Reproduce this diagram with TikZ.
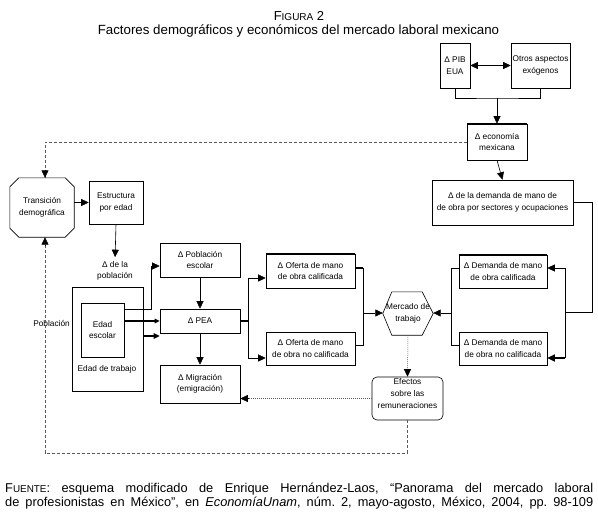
\documentclass[tikz,border=0pt]{standalone}
\usepackage{fontspec}
\setmainfont{Liberation Sans}
\usetikzlibrary{arrows.meta,calc}
\newcommand\boxfont{\fontsize{8.3}{11.5}\selectfont}
\frenchspacing
\begin{document}
\begin{tikzpicture}[x=1pt,y=-1pt,
  bx/.style={draw, line width=0.6pt, inner sep=0pt, align=center, font=\boxfont},
  plain/.style={inner sep=0pt, align=center, font=\boxfont},
  ar/.style={-{Triangle[length=7.5pt,width=7pt]}},
  ln/.style={line width=0.6pt},
  tk/.style={line width=1.8pt},
  md/.style={line width=1.2pt},
  dsh/.style={line width=0.5pt, dash pattern=on 3pt off 2pt, black!65},
  dtt/.style={line width=0.5pt, dash pattern=on 1pt off 1pt, black!65}]
\useasboundingbox (0,0) rectangle (598,515);
\fill[white] (0,0) rectangle (598,515);

% titles
\node[inner sep=0pt, font=\fontsize{13}{14}\selectfont] (t1) at (299,16) {F{\fontsize{10}{14}\selectfont IGURA} 2};
\node[inner sep=0pt, font=\fontsize{13.3}{14}\selectfont] (t2) at (298.5,31) {Factores demográficos y económicos del mercado laboral mexicano};

% top boxes
\node[bx, minimum width=30pt, minimum height=45pt] (pib) at (455,65.5) {Δ PIB\\EUA};
\node[bx, minimum width=59pt, minimum height=45pt] (otros) at (540.5,65.5) {Otros aspectos\\exógenos};
\node[bx, minimum width=60pt, minimum height=36pt] (eco) at (497,142) {Δ economía\\mexicana};
\node[bx, minimum width=141pt, minimum height=45pt] (dem) at (502.5,202.5) {Δ de la demanda de mano de\\de obra por sectores y ocupaciones};
\node[bx, minimum width=88pt, minimum height=33pt] (dcal) at (503,271.5) {Δ Demanda de mano\\de obra calificada};
\node[bx, minimum width=88pt, minimum height=33pt] (dnoc) at (503,348.5) {Δ Demanda de mano\\de obra no calificada};

% supply side
\node[bx, minimum width=89pt, minimum height=34pt] (ocal) at (310.5,271) {Δ Oferta de mano\\de obra calificada};
\node[bx, minimum width=89pt, minimum height=33pt] (onoc) at (310.5,348.5) {Δ Oferta de mano\\de obra no calificada};
\node[bx, minimum width=80pt, minimum height=34pt] (pesc) at (200,260) {Δ Población\\escolar};
\node[bx, minimum width=80pt, minimum height=24pt] (pea) at (200,321) {Δ PEA};
\node[bx, minimum width=80pt, minimum height=38pt] (mig) at (200,384) {Δ Migración\\(emigración)};

% market and effects
\node[plain, minimum width=50pt, minimum height=43pt] (mer) at (408,313.5) {Mercado de\\trabajo};
\draw[ln] (mer.west) -- ($(mer.north west)+(9,0)$) -- ($(mer.north east)+(-11,0)$) -- (mer.east)
  -- ($(mer.south east)+(-11,0)$) -- ($(mer.south west)+(9,0)$) -- cycle;
\node[bx, rounded corners=5pt, minimum width=71pt, minimum height=43pt] (efe) at (407.5,398.5) {};
\node[plain, font=\fontsize{8.3}{12}\selectfont] (efet) at (407.5,394) {Efectos\\sobre las\\remuneraciones};

% left side
\node[plain, minimum width=64pt, minimum height=59pt] (trans) at (42,207.5) {Transición\\demográfica};
\draw[ln] ($(trans.north west)+(9,0)$) -- ($(trans.north east)+(-9,0)$) -- ($(trans.north east)+(0,9)$)
  -- ($(trans.south east)+(0,-9)$) -- ($(trans.south east)+(-9,0)$) -- ($(trans.south west)+(9,0)$)
  -- ($(trans.south west)+(0,-9)$) -- ($(trans.north west)+(0,9)$) -- cycle;
\node[bx, minimum width=54pt, minimum height=43pt] (est) at (116,202.5) {Estructura\\por edad};
\node[plain] (dpob) at (115,271) {Δ de la\\población};
\node[bx, minimum width=71pt, minimum height=104pt] (pobl) at (107.5,339) {};
\node[bx, minimum width=43pt, minimum height=54pt] (esc) at (102.5,330) {Edad\\escolar};
\draw[md] (esc.south west) -- (esc.south east);
\node[plain] (ltrab) at (107,369) {Edad de trabajo};
\node[plain, anchor=east] (lpob) at (70,323) {Población};

% thick top borders
\draw[tk] (eco.north west) -- (eco.north east);
\draw[tk] (ocal.north west) -- (ocal.north east);
\draw[tk] (dcal.north west) -- (dcal.north east);

% connectors top
\draw[ln, {Triangle[length=7.5pt,width=7pt]}-{Triangle[length=7.5pt,width=7pt]}] (pib.east) -- (otros.west);
\coordinate (j1) at (497,98);
\draw[ln] (pib.south) |- (j1) -| (otros.south);
\draw[ln,ar] (j1) -- (eco.north);
\draw[ln,ar] (eco.south) -- (dem.north);

% demand loop
\coordinate (rr) at (592,312);
\coordinate (rv) at (565,312);
\coordinate (rt) at (565,268);
\coordinate (rb) at (565,358);
\draw[ln] (dem.east) -| (rr) -- (rv);
\draw[ln] (rt) -- (rb);
\draw[ln,ar] (rt) -- (rt -| dcal.east);
\draw[md,ar] (rb) -- (rb -| dnoc.east);
\coordinate (lt) at (451,268);
\coordinate (lb) at (451,345);
\coordinate (lm) at (451,313);
\draw[ln] (lt -| dcal.west) -- (lt) -- (lb) -- (lb -| dnoc.west);
\draw[ln,ar] (lm) -- (lm -| mer.east);

% supply bracket
\coordinate (ot) at (363,268);
\coordinate (ob) at (363,345);
\coordinate (om) at (363,313);
\draw[tk] (ot -| ocal.east) -- (ot);
\draw[ln] (ot) -- (ob) -- (ob -| onoc.east);
\draw[ln,ar] (om) -- (om -| mer.west);

% PEA bracket
\coordinate (pj) at (248,321);
\coordinate (pt) at (248,278);
\coordinate (pb) at (248,358);
\draw[tk] (pea.east) -- (pj);
\draw[ln] (pt) -- (pb);
\draw[ln,ar] (pt) -- (pt -| ocal.west);
\draw[ln,ar] (pb) -- (pb -| onoc.west);
\draw[ln,ar] (pesc.south) -- (pea.north);
\draw[ln,ar] (pea.south) -- (mig.north);

% left connectors
\draw[ln,ar] (est.west -| trans.east) -- (est.west);
\draw[ln,ar, shorten >=4pt] (est.south) -- (dpob.north);
\coordinate (e1) at (151,309);
\coordinate (e2) at (151,266);
\draw[ln] (e1 -| esc.east) -- (e1) -- (e2);
\draw[ln,ar] (e2) -- (e2 -| pesc.west);
\draw[tk,-{Triangle[length=5pt,width=4.5pt]}] (esc.east |- pea.west) -- (pea.west);
\coordinate (e3) at (143,336);
\draw[md,-{Triangle[length=6pt,width=5.5pt]}] (e3) -- (e3 -| pea.west);

% dashed / dotted feedback
\coordinate (d1) at (45,142);
\draw[dsh] (eco.west) -- (d1) -- (d1 |- trans.north);
\draw[ln,ar,black] ($(d1 |- trans.north)+(0,-8)$) -- (d1 |- trans.north);
\coordinate (d2) at (407.5,453);
\coordinate (d3) at (45,453);
\draw[dsh] (efe.south) -- (d2) -- (d3) -- (d3 |- trans.south);
\draw[ln,ar,black] ($(d3 |- trans.south)+(0,8)$) -- (d3 |- trans.south);
\draw[dtt] (mer.south) -- (efe.north);
\draw[ln,ar,black] ($(efe.north)+(0,-8)$) -- (efe.north);
\draw[dtt] (efe.west) -- (efe.west -| mig.east);
\draw[ln,ar,black] ($(efe.west -| mig.east)+(8,0)$) -- (efe.west -| mig.east);

% caption
\node[anchor=west, inner sep=0pt, font=\fontsize{12.8}{14}\selectfont] (c1) at (5,489)
  {\makebox[588pt][s]{F{\fontsize{9.9}{14}\selectfont UENTE}: esquema modificado de Enrique Hernández-Laos, “Panorama del mercado laboral}};
\node[anchor=west, inner sep=0pt, font=\fontsize{12.8}{14}\selectfont] (c2) at (5,503)
  {\makebox[588pt][s]{de profesionistas en México”, en \textit{EconomíaUnam}, núm. 2, mayo-agosto, México, 2004, pp. 98-109}};
\end{tikzpicture}
\end{document}
